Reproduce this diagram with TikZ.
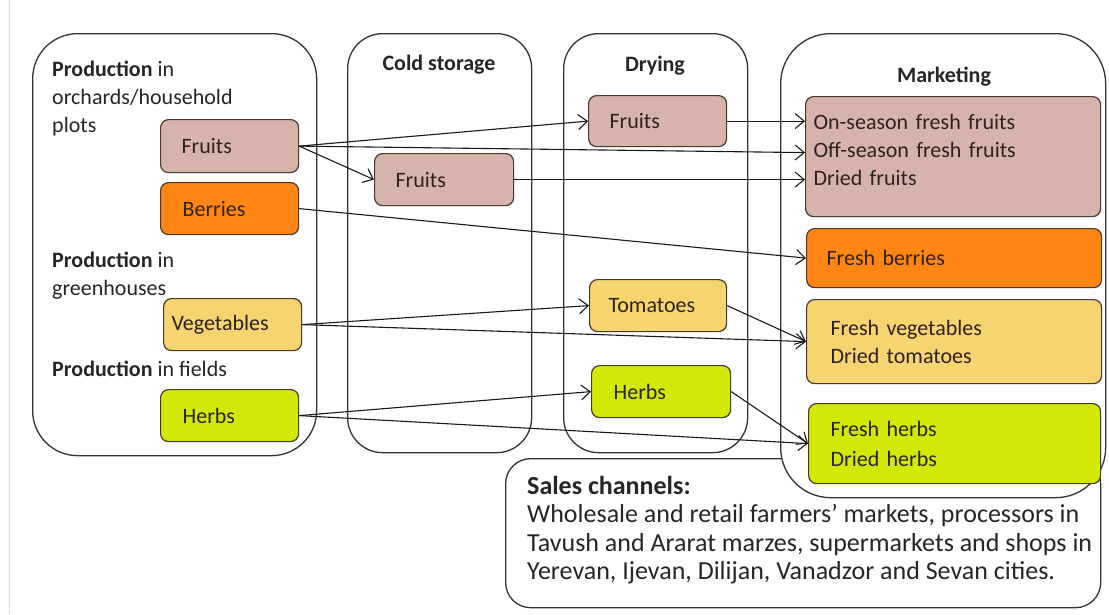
\documentclass[tikz,border=0pt]{standalone}
\usepackage{fontspec}
\setmainfont{Carlito}
\usetikzlibrary{arrows.meta, positioning}
\definecolor{fruitcolor}{RGB}{214,180,172}
\definecolor{berrycolor}{RGB}{255,134,20}
\definecolor{vegcolor}{RGB}{246,212,112}
\definecolor{herbcolor}{RGB}{212,232,8}
\definecolor{edgecolor}{RGB}{72,58,46}
\definecolor{inkcolor}{RGB}{45,35,28}
\tikzset{
  stagebox/.style={draw=black!80, line width=1.3pt, fill=white, anchor=north west, inner sep=0pt},
  itembox/.style={draw=edgecolor, line width=1.2pt, rounded corners=8pt, anchor=north west,
    align=left, text=inkcolor, inner ysep=0pt, font=\fontsize{22}{28}\selectfont},
  plain/.style={align=left, inner sep=0pt, anchor=north west, text=black!85, font=\fontsize{22}{28}\selectfont},
  heading/.style={inner sep=0pt, anchor=base, text=black!85, font=\bfseries\fontsize{22}{28}\selectfont},
  flow/.style={-{Straight Barb[length=9pt,width=15pt]}, line width=1.1pt, black!90},
}

\begin{document}
\begin{tikzpicture}[x=1pt, y=-1pt]
    \useasboundingbox (0,0) rectangle (1109,614);
    \draw[black!15, line width=1pt] (9,0) -- (9,614);

    % Stages
    \node[stagebox, rounded corners=45pt, minimum width=284pt, minimum height=422pt] (prod) at (32,33) {};
    \node[stagebox, rounded corners=35pt, minimum width=184pt, minimum height=419pt] (cold) at (347,33) {};
    \node[stagebox, rounded corners=35pt, minimum width=184pt, minimum height=419pt] (dry) at (563,33) {};
    \node[stagebox, rounded corners=25pt, minimum width=595pt, minimum height=149pt] (sales) at (505,458) {};
    \node[stagebox, rounded corners=50pt, minimum width=325pt, minimum height=464pt] (market) at (780,33) {};

    \node[heading] (coldtitle) at (439,70) {Cold storage};
    \node[heading] (drytitle) at (655,71) {Drying};
    \node[heading] (markettitle) at (944,82) {Marketing};

    \node[plain] (orchards) at (52,61) {\textbf{Production} in\\orchards/household\\plots};
    \node[plain] (greenhouses) at (52,252) {\textbf{Production} in\\greenhouses};
    \node[plain] (fields) at (52,361) {\textbf{Production} in fields};

    % Production
    \node[itembox, fill=fruitcolor, text width=96pt, inner xsep=21pt, minimum height=53pt] (pfruit) at (160,119) {Fruits};
    \node[itembox, fill=berrycolor, text width=94pt, inner xsep=22pt, minimum height=52pt] (pberry) at (160,182) {Berries};
    \node[itembox, fill=vegcolor, text width=122pt, inner xsep=8pt, minimum height=52pt] (pveg) at (163,298) {Vegetables};
    \node[itembox, fill=herbcolor, text width=94pt, inner xsep=22pt, minimum height=52pt] (pherb) at (160,389) {Herbs};

    % Cold storage and drying
    \node[itembox, fill=fruitcolor, text width=97pt, inner xsep=21pt, minimum height=52pt] (cfruit) at (374,153) {Fruits};
    \node[itembox, fill=fruitcolor, text width=96pt, inner xsep=21pt, minimum height=51pt] (dfruit) at (588,95) {Fruits};
    \node[itembox, fill=vegcolor, text width=99pt, inner xsep=19pt, minimum height=52pt] (dtomato) at (589,279) {Tomatoes};
    \node[itembox, fill=herbcolor, text width=95pt, inner xsep=22pt, minimum height=52pt] (dherb) at (591,365) {Herbs};

    % Marketing
    \node[itembox, fill=fruitcolor, text width=279pt, inner xsep=8pt, minimum height=120pt] (mfruit) at (805,96)
        {On-season fresh fruits\\Off-season fresh fruits\\Dried fruits\\[-14pt]\mbox{}};
    \node[itembox, fill=berrycolor, text width=255pt, inner xsep=20pt, minimum height=59pt] (mberry) at (806,228) {Fresh berries};
    \node[itembox, fill=vegcolor, text width=247pt, inner xsep=24pt, minimum height=84pt] (mveg) at (806,299) {Fresh vegetables\\Dried tomatoes};
    \node[itembox, fill=herbcolor, text width=248pt, inner xsep=22pt, minimum height=80pt, font=\fontsize{22}{30}\selectfont] (mherb) at (808,403) {Fresh herbs\\Dried herbs};

    \node[plain, font=\fontsize{26}{28.5}\selectfont] (channels) at (527,476)
        {\textbf{Sales channels:}\\Wholesale and retail farmers’ markets, processors in\\Tavush and Ararat marzes, supermarkets and shops in\\Yerevan, Ijevan, Dilijan, Vanadzor and Sevan cities.};

    % Flows
    \draw[flow] (pfruit.east) -- (dfruit.west);
    \draw[flow] (pfruit.east) -- (cfruit.west);
    \draw[flow] (pfruit.east) -- ([yshift=4pt]mfruit.west);
    \draw[flow] (dfruit.east) -- (dfruit.east -| mfruit.west);
    \draw[flow] (cfruit.east) -- (cfruit.east -| mfruit.west);
    \draw[flow] (pberry.east) -- (mberry.west);
    \draw[flow] (pveg.east) -- (dtomato.west);
    \draw[flow] (pveg.east) -- (mveg.west);
    \draw[flow] (dtomato.east) -- (mveg.west);
    \draw[flow] (pherb.east) -- (dherb.west);
    \draw[flow] (pherb.east) -- (mherb.west);
    \draw[flow] (dherb.east) -- (mherb.west);
\end{tikzpicture}
\end{document}
